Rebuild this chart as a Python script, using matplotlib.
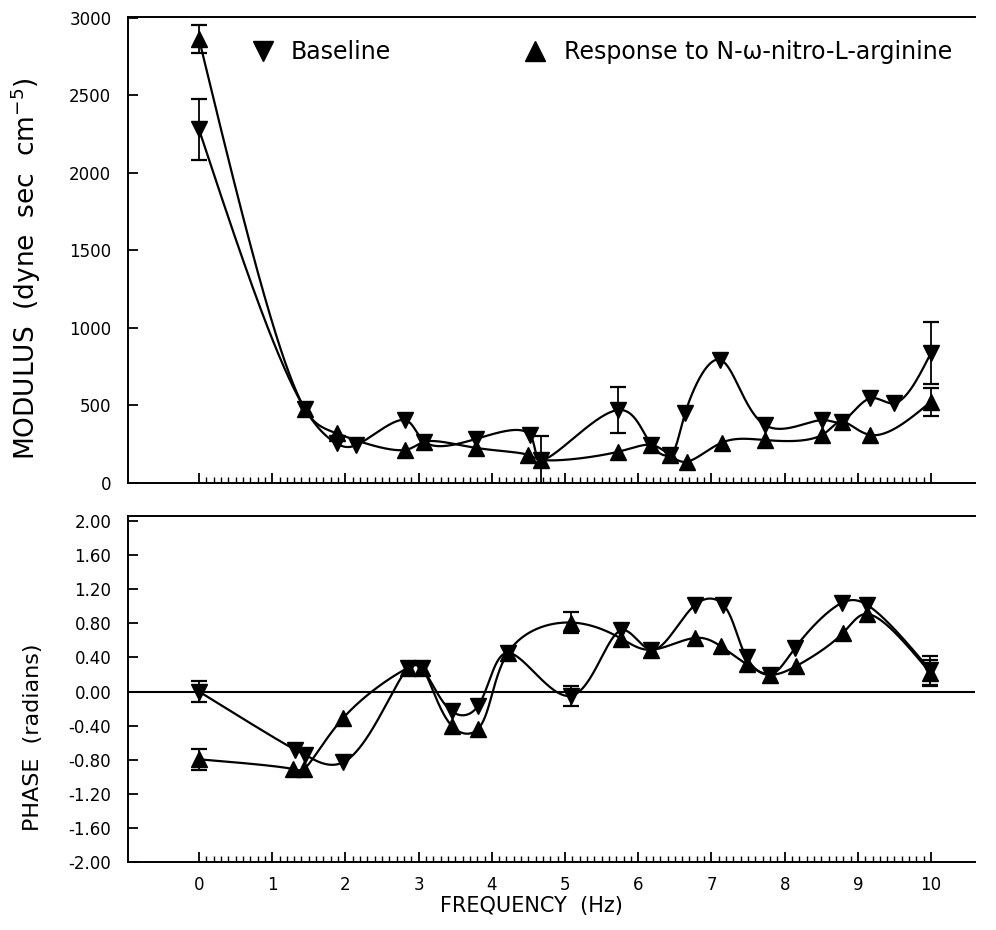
import numpy as np
import matplotlib
matplotlib.use("Agg")
import matplotlib.pyplot as plt
from matplotlib.lines import Line2D
from matplotlib.ticker import FixedLocator

plt.rcParams['font.family'] = ['DejaVu Sans']
plt.rcParams['axes.unicode_minus'] = False

# Modulus (top panel)
freq_mod_base = [0, 1.45, 1.88, 2.15, 2.81, 3.08, 3.79, 4.52, 4.67, 5.73,
                 6.18, 6.43, 6.64, 7.12, 7.73, 8.51, 8.78, 9.17, 9.49, 10.0]
mod_base = [2280, 475, 255, 245, 406, 266, 285, 310, 150, 471,
            245, 181, 450, 794, 374, 406, 396, 546, 514, 840]
mod_base_err = [195, 0, 0, 0, 0, 0, 0, 0, 150, 150,
                0, 0, 0, 0, 0, 0, 0, 0, 0, 200]

freq_mod_resp = [0, 1.45, 1.88, 2.81, 3.08, 3.79, 4.50, 4.67, 5.73,
                 6.18, 6.43, 6.66, 7.14, 7.73, 8.51, 8.78, 9.17, 10.0]
mod_resp = [2863, 475, 320, 213, 266, 226, 181, 150, 202,
            245, 181, 137, 260, 277, 310, 396, 310, 525]
mod_resp_err = [90, 0, 0, 0, 0, 0, 0, 0, 0,
                0, 0, 0, 0, 0, 0, 0, 0, 90]

# Phase (bottom panel)
freq_ph_base = [0, 1.31, 1.45, 1.97, 2.86, 3.04, 3.45, 3.81, 4.22, 5.08,
                5.77, 6.18, 6.78, 7.16, 7.48, 7.80, 8.14, 8.78, 9.12, 9.99]
ph_base = [0.0, -0.68, -0.74, -0.83, 0.28, 0.28, -0.23, -0.17, 0.455, -0.05,
           0.72, 0.49, 1.02, 1.02, 0.40, 0.20, 0.51, 1.04, 1.02, 0.25]
ph_base_err = [0.12, 0, 0, 0, 0, 0, 0, 0, 0, 0.12,
               0, 0, 0, 0, 0, 0, 0, 0, 0, 0.17]

freq_ph_resp = [0, 1.29, 1.43, 1.97, 2.86, 3.04, 3.45, 3.81, 4.22, 5.08,
                5.77, 6.18, 6.78, 7.13, 7.48, 7.80, 8.16, 8.80, 9.12, 9.99]
ph_resp = [-0.795, -0.91, -0.91, -0.31, 0.28, 0.28, -0.40, -0.44, 0.455, 0.81,
           0.62, 0.49, 0.63, 0.53, 0.32, 0.20, 0.30, 0.69, 0.91, 0.22]
ph_resp_err = [0.12, 0, 0, 0, 0, 0, 0, 0, 0, 0.12,
               0, 0, 0, 0, 0, 0, 0, 0, 0, 0.15]

mod_ticks = [0, 500, 1000, 1500, 2000, 2500, 3000]
ph_ticks = [-2.0, -1.6, -1.2, -0.8, -0.4, 0.0, 0.4, 0.8, 1.2, 1.6, 2.0]


def natural_spline(t, y, ts):
    m = len(t)
    h = np.diff(t)
    A = np.zeros((m, m))
    r = np.zeros(m)
    A[0, 0] = A[-1, -1] = 1
    for i in range(1, m - 1):
        A[i, i - 1] = h[i - 1]
        A[i, i] = 2 * (h[i - 1] + h[i])
        A[i, i + 1] = h[i]
        r[i] = 6 * ((y[i + 1] - y[i]) / h[i] - (y[i] - y[i - 1]) / h[i - 1])
    M = np.linalg.solve(A, r)
    k = np.clip(np.searchsorted(t, ts) - 1, 0, m - 2)
    t0 = t[k + 1] - ts
    t1 = ts - t[k]
    hk = h[k]
    return (M[k] * t0**3 / (6 * hk) + M[k + 1] * t1**3 / (6 * hk)
            + (y[k] / hk - M[k] * hk / 6) * t0 + (y[k + 1] / hk - M[k + 1] * hk / 6) * t1)


def smooth(ax, x, y, n=1500):
    """parametric spline (centripetal) through the points, in screen space"""
    pts = ax.transData.transform(np.column_stack([x, y]))
    d = np.hypot(*np.diff(pts, axis=0).T) ** 0.5
    t = np.concatenate([[0], np.cumsum(d)])
    ts = np.linspace(0, t[-1], n)
    px = natural_spline(t, pts[:, 0], ts)
    py = natural_spline(t, pts[:, 1], ts)
    back = ax.transData.inverted().transform(np.column_stack([px, py]))
    return back[:, 0], back[:, 1]


def draw_series(ax, x, y, err, marker):
    x = np.asarray(x, float); y = np.asarray(y, float); err = np.asarray(err, float)
    xs, ys = smooth(ax, x, y)
    ax.plot(xs, ys, color='k', lw=1.6, zorder=2)
    sel = err > 0
    ax.errorbar(x[sel], y[sel], yerr=err[sel], fmt='none', ecolor='k',
                elinewidth=1.3, capsize=6, capthick=1.6, zorder=3)
    ax.plot(x, y, ls='none', marker=marker, color='k', ms=11, zorder=4)


def style_axis(ax):
    ax.spines['right'].set_visible(False)
    for s in ['left', 'bottom', 'top']:
        ax.spines[s].set_linewidth(1.4)
    ax.xaxis.set_major_locator(FixedLocator(range(0, 11)))
    ax.xaxis.set_minor_locator(FixedLocator([i / 10 for i in range(0, 101) if i % 10]))
    ax.tick_params(axis='x', which='major', direction='in', length=7, width=1.3, top=False)
    ax.tick_params(axis='x', which='minor', direction='in', length=4, width=1.0, top=False)
    ax.tick_params(axis='y', which='major', direction='in', length=7, width=1.3,
                   labelsize=12, pad=12, right=False)


fig = plt.figure(figsize=(9.96, 9.30), dpi=100)
ax1 = fig.add_axes([128 / 996, 1 - 483 / 930, (975 - 128) / 996, (483 - 17) / 930])
ax2 = fig.add_axes([128 / 996, 1 - 862 / 930, (975 - 128) / 996, (862 - 516) / 930])
ax1.set_xlim(-0.97, 10.6)
ax1.set_ylim(0, 3005)
ax2.set_xlim(-0.97, 10.6)
ax2.set_ylim(-2.0, 2.06)

# top: modulus
draw_series(ax1, freq_mod_base, mod_base, mod_base_err, 'v')
draw_series(ax1, freq_mod_resp, mod_resp, mod_resp_err, '^')
style_axis(ax1)
ax1.set_yticks(mod_ticks)
ax1.tick_params(axis='x', labelbottom=False)
ax1.set_ylabel('MODULUS  (dyne  sec  cm$^{-5}$)', fontsize=19)
ax1.yaxis.set_label_coords(-0.1, 0.46)

handles = [Line2D([], [], ls='none', marker='v', color='k', ms=15),
           Line2D([], [], ls='none', marker='^', color='k', ms=15)]
ax1.legend(handles, ['Baseline', 'Response to N-\u03c9-nitro-L-arginine'],
           loc='center left', bbox_to_anchor=(0.131, 0.925), ncol=2, frameon=False,
           fontsize=17, borderpad=0, handlelength=1.0, handletextpad=0.7,
           columnspacing=5.6)

# bottom: phase
ax2.axhline(0, color='k', lw=1.5, zorder=1)
draw_series(ax2, freq_ph_base, ph_base, ph_base_err, 'v')
draw_series(ax2, freq_ph_resp, ph_resp, ph_resp_err, '^')
style_axis(ax2)
ax2.set_ylim(-2.0, 2.06)
ax2.set_yticks(ph_ticks)
ax2.set_yticklabels(['%.2f' % t for t in ph_ticks])
ax2.tick_params(axis='x', labelsize=12, pad=10)
ax2.set_ylabel('PHASE  (radians)', fontsize=16)
ax2.yaxis.set_label_coords(-0.1, 0.36)
ax2.set_xlabel('FREQUENCY  (Hz)', fontsize=15)
ax2.xaxis.set_label_coords(0.476, -0.097)

fig.savefig('out.png', dpi=100)
